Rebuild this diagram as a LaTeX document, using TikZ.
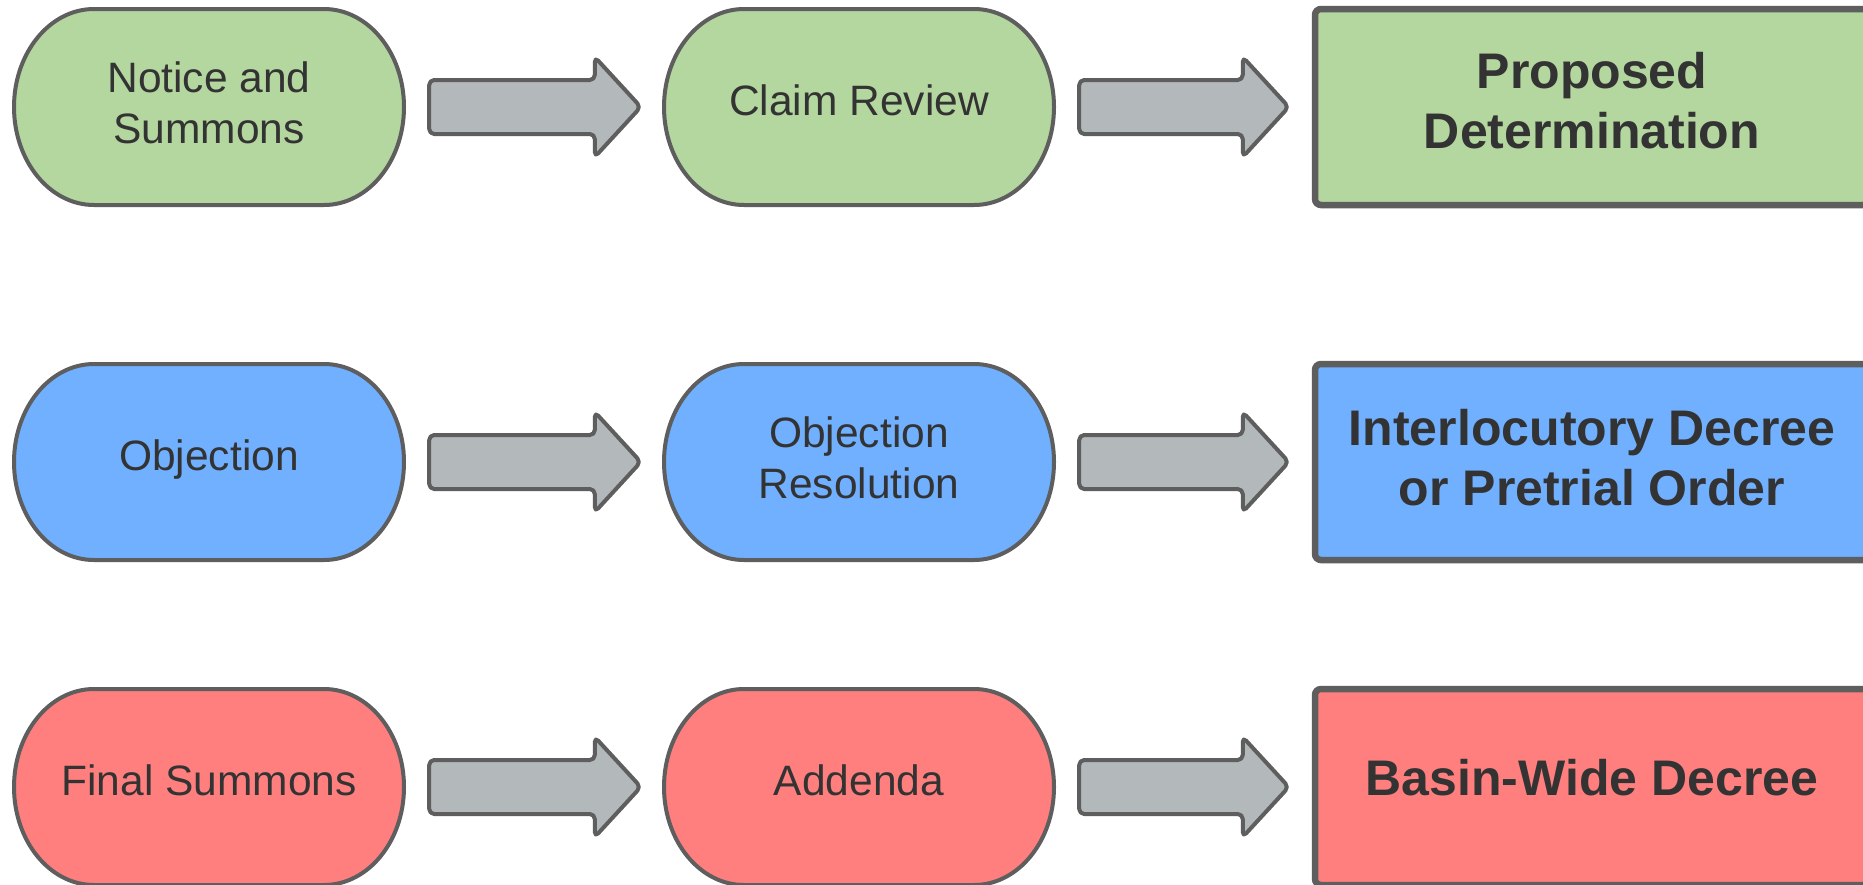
\documentclass[tikz,border=0pt]{standalone}
\usepackage{fontspec}
\setmainfont{Liberation Sans}
\newfontfamily\regfont{Liberation Sans}
\newfontfamily\boldfont{Liberation Sans Bold}
\usetikzlibrary{calc}
\definecolor{cgreen}{HTML}{B4D69F}
\definecolor{cblue}{HTML}{70B0FF}
\definecolor{cred}{HTML}{FF7F7F}
\definecolor{cgray}{HTML}{B3B8BA}
\definecolor{cline}{HTML}{5E5E5E}
\definecolor{ctext}{HTML}{333333}
\tikzset{
  stadline/.style={draw=cline, line width=4pt},
  stadnode/.style={minimum width=390pt, minimum height=196pt, inner sep=0pt},
  regtext/.style={inner sep=0pt, align=center, text=ctext, font=\regfont\fontsize{42.5}{51}\selectfont},
  boldtext/.style={inner sep=0pt, align=center, text=ctext, font=\boldfont\fontsize{50}{60}\selectfont},
  resultbox/.style={draw=cline, line width=6.5pt, rounded corners=6pt, minimum width=554pt, minimum height=196pt, inner sep=0pt},
  oneline/.style={text height=30pt, text depth=14pt},
  twoline/.style={yshift=4pt},
  blockarrow/.style={draw=cline, fill=cgray, line width=4pt, rounded corners=5pt, line join=round},
}
\newcommand\stadium[6]{% name, x, y, fill, text style, text
  \draw[stadline, fill=#4] (#2-115,#3+98) -- (#2+115,#3+98)
     arc[start angle=90, end angle=-90, x radius=80pt, y radius=98pt]
     -- (#2-115,#3-98)
     arc[start angle=270, end angle=90, x radius=80pt, y radius=98pt] -- cycle;
  \node[stadnode, label={[regtext, #5]center:#6}] (#1) at (#2,#3) {};}
\newcommand\flowarrow[2]{%
  \draw[blockarrow] let \p1=(#1.east), \p2=(#2.west) in
    (\x1+25pt,\y1+27pt) -- (\x2-69pt,\y1+27pt) -- (\x2-69pt,\y1+50pt)
    -- (\x2-23pt,\y1) -- (\x2-69pt,\y1-50pt) -- (\x2-69pt,\y1-27pt)
    -- (\x1+25pt,\y1-27pt) -- cycle;}
\begin{document}
\begin{tikzpicture}[x=1pt,y=1pt]
\useasboundingbox (0,0) rectangle (1863,-884);
\fill[white] (0,0) rectangle (1863,-884);
\clip (0,0) rectangle (1863,-884);
% row 1
\stadium{notice}{209}{-107}{cgreen}{twoline}{Notice and\\Summons}
\stadium{claim}{859}{-107}{cgreen}{oneline}{Claim Review}
\node[resultbox, fill=cgreen, label={[boldtext, yshift=6pt]center:Proposed\\Determination}] (proposed) at (1592,-107) {};
% row 2
\stadium{objection}{209}{-462}{cblue}{oneline}{Objection}
\stadium{resolution}{859}{-462}{cblue}{twoline}{Objection\\Resolution}
\node[resultbox, fill=cblue, label={[boldtext, yshift=4pt]center:Interlocutory Decree\\or Pretrial Order}] (interloc) at (1592,-462) {};
% row 3
\stadium{final}{209}{-787}{cred}{oneline}{Final Summons}
\stadium{addenda}{859}{-787}{cred}{oneline}{Addenda}
\node[resultbox, fill=cred, label={[boldtext, oneline]center:Basin-Wide Decree}] (basin) at (1592,-787) {};
% arrows
\flowarrow{notice}{claim}
\flowarrow{claim}{proposed}
\flowarrow{objection}{resolution}
\flowarrow{resolution}{interloc}
\flowarrow{final}{addenda}
\flowarrow{addenda}{basin}
\end{tikzpicture}
\end{document}
